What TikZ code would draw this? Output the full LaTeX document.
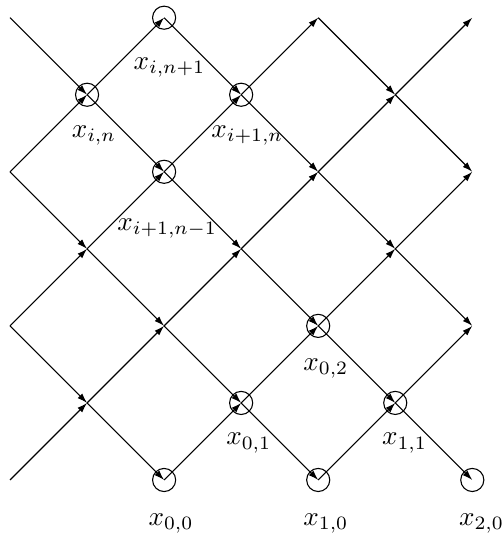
\documentclass[tikz,border=0pt]{standalone}
\usetikzlibrary{arrows.meta}
\begin{document}
\begin{tikzpicture}[x=1cm,y=1cm,
  seg/.style={-{Latex[length=0.13cm,width=0.085cm]}, line width=0.4pt},
  vtx/.style={circle,draw,line width=0.4pt,minimum size=0.3cm,inner sep=0pt},
  lbl/.style={inner sep=0pt}]
\useasboundingbox (-0.13,-0.74) rectangle (6.40,6.23);
% lattice points
\foreach \c in {0,...,6}{
  \foreach \r in {0,...,6}{
    \pgfmathtruncatemacro\s{mod(\c+\r,2)}
    \ifnum\s=0 \coordinate (p\c\r) at (\c,\r); \fi
  }
}
% circled points
\node[vtx] (xin1)  at (p26) {};
\node[vtx] (xin)   at (p15) {};
\node[vtx] (xi1n)  at (p35) {};
\node[vtx] (xi1n1) at (p24) {};
\node[vtx] (x02)   at (p42) {};
\node[vtx] (x01)   at (p31) {};
\node[vtx] (x11)   at (p51) {};
\node[vtx] (x00)   at (p20) {};
\node[vtx] (x10)   at (p40) {};
\node[vtx] (x20)   at (p60) {};
% connectors
\foreach \c in {0,...,5}{
  \foreach \r in {0,...,6}{
    \pgfmathtruncatemacro\s{mod(\c+\r,2)}
    \pgfmathtruncatemacro\cn{\c+1}
    \pgfmathtruncatemacro\ru{\r+1}
    \pgfmathtruncatemacro\rd{\r-1}
    \ifnum\s=0
      \ifnum\r<6 \draw[seg] (p\c\r) -- (p\cn\ru); \fi
      \ifnum\r>0 \draw[seg] (p\c\r) -- (p\cn\rd); \fi
    \fi
  }
}
% labels
\node[lbl] (lxin1)  at (2.07,5.35) {$x_{i,n+1}$};
\node[lbl] (lxin)   at (1.09,4.47) {$x_{i,n}$};
\node[lbl] (lxi1n)  at (3.08,4.47) {$x_{i+1,n}$};
\node[lbl] (lxi1n1) at (2.04,3.26) {$x_{i+1,n-1}$};
\node[lbl] (lx02)   at (4.10,1.45) {$x_{0,2}$};
\node[lbl] (lx01)   at (3.10,0.48) {$x_{0,1}$};
\node[lbl] (lx11)   at (5.12,0.48) {$x_{1,1}$};
\node[lbl] (lx00)   at (2.09,-0.56) {$x_{0,0}$};
\node[lbl] (lx10)   at (4.10,-0.56) {$x_{1,0}$};
\node[lbl] (lx20)   at (6.12,-0.56) {$x_{2,0}$};
\end{tikzpicture}
\end{document}
